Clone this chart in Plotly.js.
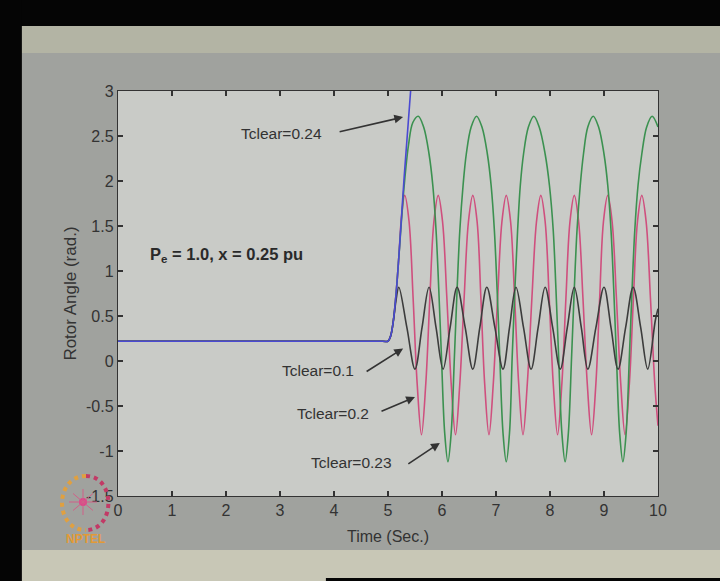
<!DOCTYPE html>
<html>
<head>
<meta charset="utf-8">
<script src="https://cdn.plot.ly/plotly-3.0.1.min.js"></script>
<style>html,body{margin:0;padding:0;background:#a0a29e;}#chart{width:720px;height:581px;}</style>
</head>
<body>
<div id="chart"></div>
<script>
// ---- Data ----
// Tclear = 0.24 s (unstable, blue)
const tBlue = [0, 4.9, 5.0, 5.05, 5.1, 5.15, 5.2, 5.25, 5.3, 5.35, 5.4, 5.45, 5.5];
const dBlue = [0.22, 0.22, 0.22, 0.28, 0.45, 0.75, 1.15, 1.6, 2.05, 2.45, 2.85, 3.25, 3.65];

// Tclear = 0.1 s (black)
const tBlack = [0, 4.9, 5.0, 5.05, 5.1, 5.15, 5.2, 5.35, 5.5, 5.63, 5.76, 5.89, 6.02, 6.15, 6.28, 6.43, 6.57, 6.70, 6.83, 6.98, 7.13, 7.25, 7.37, 7.51, 7.65, 7.78, 7.91, 8.05, 8.19, 8.32, 8.45, 8.58, 8.70, 8.85, 9.00, 9.13, 9.26, 9.40, 9.54, 9.68, 9.81, 9.95, 10.0];
const dBlack = [0.22, 0.22, 0.22, 0.28, 0.45, 0.68, 0.82, 0.37, -0.09, 0.37, 0.82, 0.37, -0.09, 0.37, 0.82, 0.37, -0.09, 0.37, 0.82, 0.37, -0.09, 0.37, 0.82, 0.37, -0.09, 0.37, 0.82, 0.37, -0.09, 0.37, 0.82, 0.37, -0.09, 0.37, 0.82, 0.37, -0.09, 0.37, 0.82, 0.37, -0.09, 0.45, 0.58];

// Tclear = 0.2 s (pink)
const tPink = [0, 4.9, 5.0, 5.05, 5.1, 5.15, 5.2, 5.25, 5.31,
  5.39, 5.465, 5.54, 5.62, 5.70, 5.775, 5.85, 5.93,
  6.01, 6.09, 6.17, 6.25, 6.33, 6.41, 6.49, 6.57,
  6.65, 6.72, 6.79, 6.87, 6.95, 7.03, 7.11, 7.19,
  7.27, 7.345, 7.42, 7.50, 7.58, 7.665, 7.75, 7.83,
  7.91, 7.985, 8.06, 8.14, 8.22, 8.295, 8.37, 8.45,
  8.53, 8.61, 8.69, 8.77, 8.85, 8.92, 8.99, 9.07,
  9.15, 9.23, 9.31, 9.39, 9.47, 9.545, 9.62, 9.70,
  9.78, 9.86, 9.94, 10.0];
const dPink = [0.22, 0.22, 0.22, 0.28, 0.45, 0.75, 1.15, 1.6, 1.84,
  1.55, 0.7, -0.25, -0.82, -0.25, 0.7, 1.55, 1.84,
  1.55, 0.7, -0.25, -0.82, -0.25, 0.7, 1.55, 1.84,
  1.55, 0.7, -0.25, -0.82, -0.25, 0.7, 1.55, 1.84,
  1.55, 0.7, -0.25, -0.82, -0.25, 0.7, 1.55, 1.84,
  1.55, 0.7, -0.25, -0.82, -0.25, 0.7, 1.55, 1.84,
  1.55, 0.7, -0.25, -0.82, -0.25, 0.7, 1.55, 1.84,
  1.55, 0.7, -0.25, -0.82, -0.25, 0.7, 1.55, 1.84,
  1.55, 0.7, -0.25, -0.72];

// Tclear = 0.23 s (green)
const tGreen = [0, 4.9, 5.0, 5.05, 5.1, 5.15, 5.2, 5.23, 5.3, 5.38, 5.46, 5.56,
  5.66, 5.76, 5.83, 5.89, 5.94, 5.99, 6.05, 6.11,
  6.17, 6.23, 6.28, 6.33, 6.39, 6.45, 6.54, 6.64,
  6.74, 6.84, 6.91, 6.97, 7.02, 7.07, 7.13, 7.19,
  7.25, 7.30, 7.35, 7.40, 7.45, 7.51, 7.60, 7.70,
  7.80, 7.91, 7.99, 8.06, 8.11, 8.16, 8.22, 8.28,
  8.34, 8.40, 8.45, 8.50, 8.56, 8.62, 8.70, 8.80,
  8.90, 9.00, 9.07, 9.13, 9.18, 9.23, 9.29, 9.35,
  9.41, 9.47, 9.52, 9.57, 9.63, 9.70, 9.79, 9.89, 10.0];
const dGreen = [0.22, 0.22, 0.22, 0.28, 0.45, 0.75, 1.15, 1.4, 1.95, 2.4, 2.65, 2.72,
  2.6, 2.3, 1.95, 1.45, 0.8, 0.05, -0.8, -1.12,
  -0.8, 0.05, 0.8, 1.45, 1.95, 2.3, 2.6, 2.72,
  2.6, 2.3, 1.95, 1.45, 0.8, 0.05, -0.8, -1.12,
  -0.8, 0.05, 0.8, 1.45, 1.95, 2.3, 2.6, 2.72,
  2.6, 2.3, 1.95, 1.45, 0.8, 0.05, -0.8, -1.12,
  -0.8, 0.05, 0.8, 1.45, 1.95, 2.3, 2.6, 2.72,
  2.6, 2.3, 1.95, 1.45, 0.8, 0.05, -0.8, -1.12,
  -0.8, 0.05, 0.8, 1.45, 1.95, 2.3, 2.6, 2.72, 2.6];

// Tick labels
const xTickVals = [0, 1, 2, 3, 4, 5, 6, 7, 8, 9, 10];
const xTickText = ["0", "1", "2", "3", "4", "5", "6", "7", "8", "9", "10"];
const yTickVals = [-1.5, -1, -0.5, 0, 0.5, 1, 1.5, 2, 2.5, 3];
const yTickText = ["-1.5", "-1", "-0.5", "0", "0.5", "1", "1.5", "2", "2.5", "3"];

// Curve labels
const labelText = ["Tclear=0.24", "Tclear=0.1", "Tclear=0.2", "Tclear=0.23"];
const labelX = [3.03, 3.71, 3.99, 4.32];
const labelY = [2.53, -0.10, -0.58, -1.13];
const arrowX = [5.28, 5.28, 5.50, 5.96];
const arrowY = [2.71, 0.14, -0.40, -0.91];
const arrowAX = [-65, -38, -35, -33];
const arrowAY = [15, 24, 15, 22];

const ink = '#333333';
const fontFam = '"Liberation Sans", Arial, sans-serif';

function line(x, y, color) {
  return {x: x, y: y, type: 'scatter', mode: 'lines',
    line: {color: color, width: 1.6, shape: 'spline', smoothing: 1},
    hoverinfo: 'skip', showlegend: false};
}

const traces = [
  line(tPink, dPink, '#cf4f7e'),
  line(tGreen, dGreen, '#3b9150'),
  line(tBlack, dBlack, '#3c3c3c'),
  line(tBlue, dBlue, '#4a4ad2')
];

const annotations = [];
for (let i = 0; i < labelText.length; i++) {
  annotations.push({x: labelX[i], y: labelY[i], xref: 'x', yref: 'y', text: labelText[i],
    showarrow: false, font: {family: fontFam, size: 15.5, color: ink}});
  annotations.push({x: arrowX[i], y: arrowY[i], xref: 'x', yref: 'y', text: '',
    showarrow: true, ax: arrowAX[i], ay: arrowAY[i], arrowhead: 2, arrowsize: 1.1,
    arrowwidth: 1.6, arrowcolor: ink});
}
annotations.push({x: 0.556, y: 1.18, xref: 'x', yref: 'y', xanchor: 'left', yanchor: 'middle',
  text: '<b>P<sub>e</sub> = 1.0, x = 0.25 pu</b>', showarrow: false,
  font: {family: fontFam, size: 16.5, color: '#2a2a2a'}});
annotations.push({x: -0.0593, y: -0.106, xref: 'paper', yref: 'paper', xanchor: 'center', yanchor: 'middle',
  text: '<b>NPTEL</b>', showarrow: false, font: {family: fontFam, size: 12, color: '#e39a35'}});

const shapes = [
  // top black band
  {type: 'rect', xref: 'paper', yref: 'paper', x0: -0.3, x1: 1.3, y0: 1.1605, y1: 1.4, fillcolor: '#050505', line: {width: 0}, layer: 'below'},
  // top beige band
  {type: 'rect', xref: 'paper', yref: 'paper', x0: -0.3, x1: 1.3, y0: 1.0938, y1: 1.1605, fillcolor: '#b3b4a4', line: {width: 0}, layer: 'below'},
  // bottom beige band
  {type: 'rect', xref: 'paper', yref: 'paper', x0: -0.3, x1: 1.3, y0: -0.4, y1: -0.1333, fillcolor: '#c8c7b6', line: {width: 0}, layer: 'below'},
  // bottom black sliver
  {type: 'rect', xref: 'paper', yref: 'paper', x0: 0.385, x1: 1.3, y0: -0.4, y1: -0.2025, fillcolor: '#050505', line: {width: 0}, layer: 'below'},
  // left black strip
  {type: 'rect', xref: 'paper', yref: 'paper', x0: -0.4, x1: -0.178, y0: -0.4, y1: 1.4, fillcolor: '#050505', line: {width: 0}, layer: 'below'},
  // logo: left orange arc
  {type: 'path', xref: 'paper', yref: 'paper', layer: 'above',
   path: 'M -0.0593,0.0494 C -0.1185,0.0494 -0.1185,-0.0840 -0.0593,-0.0840',
   line: {color: '#e0a040', width: 4, dash: 'dot'}},
  // logo: right crimson arc
  {type: 'path', xref: 'paper', yref: 'paper', layer: 'above',
   path: 'M -0.0593,0.0494 C -0.0040,0.0494 -0.0040,-0.0840 -0.0593,-0.0840',
   line: {color: '#c23a66', width: 4, dash: 'dot'}},
  // logo: centre star
  {type: 'circle', xref: 'paper', yref: 'paper', layer: 'above',
   x0: -0.0722, x1: -0.0574, y0: -0.0049, y1: -0.0247, fillcolor: '#e0408a', line: {width: 0}},
  {type: 'path', xref: 'paper', yref: 'paper', layer: 'above',
   path: 'M -0.0907,-0.0148 L -0.0389,-0.0148 M -0.0648,0.0173 L -0.0648,-0.0469 M -0.0833,0.0062 L -0.0463,-0.0358 M -0.0833,-0.0358 L -0.0463,0.0062',
   line: {color: '#d06088', width: 1}}
];

const axisCommon = {
  showline: true, linecolor: ink, linewidth: 1.2, mirror: 'ticks',
  ticks: 'inside', ticklen: 5, tickwidth: 1.2, tickcolor: ink,
  showgrid: false, zeroline: false,
  tickfont: {family: fontFam, size: 16, color: ink}
};

const layout = {
  width: 720, height: 581,
  margin: {l: 118, r: 62, t: 91, b: 85},
  paper_bgcolor: '#a0a29e',
  plot_bgcolor: '#c9cbc7',
  xaxis: Object.assign({}, axisCommon, {
    range: [0, 10], tickmode: 'array', tickvals: xTickVals, ticktext: xTickText,
    title: {text: 'Time (Sec.)', font: {family: fontFam, size: 16, color: ink}, standoff: 12}
  }),
  yaxis: Object.assign({}, axisCommon, {
    range: [-1.5, 3], tickmode: 'array', tickvals: yTickVals, ticktext: yTickText,
    title: {text: 'Rotor Angle (rad.)', font: {family: fontFam, size: 17, color: ink}, standoff: 5}
  }),
  annotations: annotations,
  shapes: shapes,
  showlegend: false
};

Plotly.newPlot('chart', traces, layout, {staticPlot: true, displayModeBar: false});
</script>
</body>
</html>
